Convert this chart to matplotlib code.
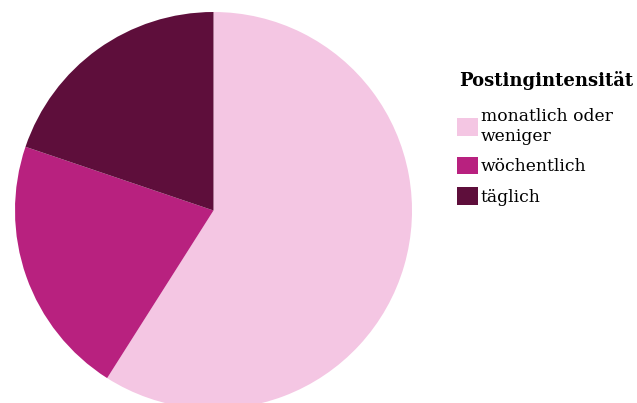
import matplotlib
matplotlib.use('Agg')
import matplotlib.pyplot as plt
from matplotlib.patches import Patch

# Anteil der Accounts je Postingintensität (in %)
categories = ['monatlich oder\nweniger', 'wöchentlich', 'täglich']
shares = [59.0, 21.2, 19.8]
colors = ['#F4C6E3', '#B8217F', '#5E0E3B']
legend_title = 'Postingintensität'

plt.rcParams['font.family'] = ['DejaVu Serif']

fig = plt.figure(figsize=(6.37, 4.03), dpi=100)

# pie axes: circle runs off the bottom edge a little
ax = fig.add_axes([15 / 637, -6 / 403, 397 / 637, 397 / 403])
ax.pie(shares, colors=colors, startangle=90, counterclock=False,
       radius=1, frame=False, wedgeprops={'linewidth': 0})
ax.set_xlim(-1, 1)
ax.set_ylim(-1, 1)
ax.set_aspect('equal')
ax.axis('off')

# legend title set on its own so the gap to the entries can be tuned
fig.text(459 / 637, 1 - 86 / 403, legend_title, fontsize=13,
         fontweight='bold', ha='left', va='baseline')

handles = [Patch(facecolor=c, edgecolor='none') for c in colors]
leg = fig.legend(handles, categories,
                 loc='upper left', bbox_to_anchor=(457 / 637, 1 - 108 / 403),
                 frameon=False, fontsize=12.3,
                 handlelength=1.2, handleheight=1.2,
                 handletextpad=0.2, labelspacing=0.7, borderaxespad=0,
                 borderpad=0)

fig.savefig('out.png', dpi=100)
